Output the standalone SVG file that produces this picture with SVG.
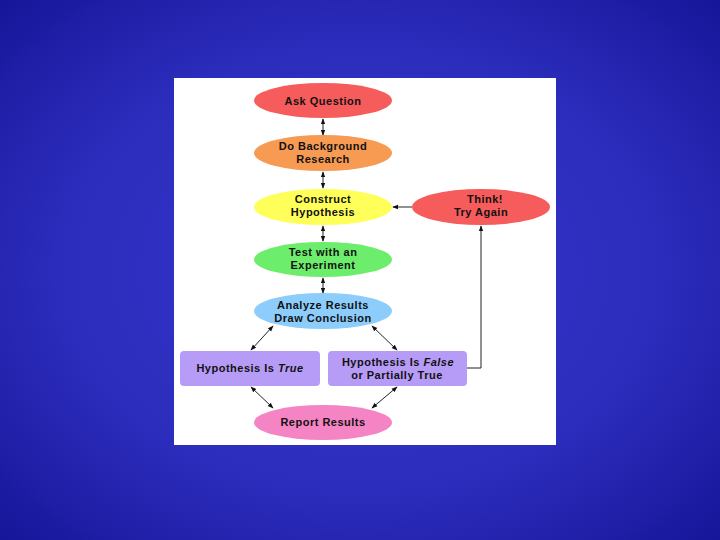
<svg xmlns="http://www.w3.org/2000/svg" width="720" height="540" viewBox="0 0 720 540">
<defs>
<radialGradient id="bg" cx="50%" cy="50%" r="70%">
<stop offset="0" stop-color="#3636cc"/>
<stop offset="0.6" stop-color="#2c2cbc"/>
<stop offset="1" stop-color="#16169a"/>
</radialGradient>
<marker id="ah" viewBox="0 0 8 8" refX="7" refY="4" markerWidth="6" markerHeight="6" orient="auto-start-reverse" markerUnits="userSpaceOnUse">
<path d="M0,1 L8,4 L0,7 Z" fill="#111"/>
</marker>
<style>
text{font-family:"Liberation Sans",Arial,sans-serif;font-weight:bold;font-size:11px;letter-spacing:0.5px;fill:#111;text-anchor:middle}
.c{stroke:#222;stroke-width:1;fill:none}
.d{marker-start:url(#ah);marker-end:url(#ah)}
.e{marker-end:url(#ah)}
</style>
</defs>
<rect width="720" height="540" fill="url(#bg)"/>
<rect x="174" y="78" width="382" height="367" fill="#ffffff"/>
<g id="connectors">
<line class="c d" x1="323" y1="119" x2="323" y2="135"/>
<line class="c d" x1="323" y1="172" x2="323" y2="188"/>
<line class="c d" x1="323" y1="226" x2="323" y2="241"/>
<line class="c d" x1="323" y1="278" x2="323" y2="293"/>
<line class="c e" x1="412" y1="207" x2="393" y2="207"/>
<polyline class="c e" points="467,368 481,368 481,226"/>
<line class="c d" x1="273" y1="326" x2="251" y2="350"/>
<line class="c d" x1="372" y1="326" x2="397" y2="350"/>
<line class="c d" x1="251" y1="387" x2="273" y2="408"/>
<line class="c d" x1="397" y1="387" x2="372" y2="408"/>
</g>
<g id="ask"><ellipse cx="323" cy="100.5" rx="69" ry="17.5" fill="#f65c5c"/><text x="323" y="104.5">Ask Question</text></g>
<g id="background"><ellipse cx="323" cy="153" rx="69" ry="18" fill="#f79a52"/><text x="323" y="150">Do Background</text><text x="323" y="163">Research</text></g>
<g id="hypothesis"><ellipse cx="323" cy="207" rx="69" ry="18" fill="#ffff5a"/><text x="323" y="203">Construct</text><text x="323" y="216">Hypothesis</text></g>
<g id="think"><ellipse cx="481" cy="207" rx="69" ry="18" fill="#f65c5c"/><text x="485" y="203">Think!</text><text x="481" y="216">Try Again</text></g>
<g id="experiment"><ellipse cx="323" cy="259.5" rx="69" ry="17.5" fill="#6cee6c"/><text x="323" y="256">Test with an</text><text x="323" y="269">Experiment</text></g>
<g id="analyze"><ellipse cx="323" cy="311" rx="69" ry="18" fill="#8ccdfc"/><text x="323" y="309">Analyze Results</text><text x="323" y="322">Draw Conclusion</text></g>
<g id="true"><rect x="180" y="351" width="140" height="35" rx="4" fill="#b79cf7"/><text x="250" y="372">Hypothesis Is <tspan font-style="italic">True</tspan></text></g>
<g id="false"><rect x="328" y="351" width="139" height="35" rx="4" fill="#b79cf7"/><text x="398" y="366">Hypothesis Is <tspan font-style="italic">False</tspan></text><text x="397" y="379">or Partially True</text></g>
<g id="report"><ellipse cx="323" cy="422.5" rx="69" ry="17.5" fill="#f584c4"/><text x="323" y="426">Report Results</text></g>
</svg>
